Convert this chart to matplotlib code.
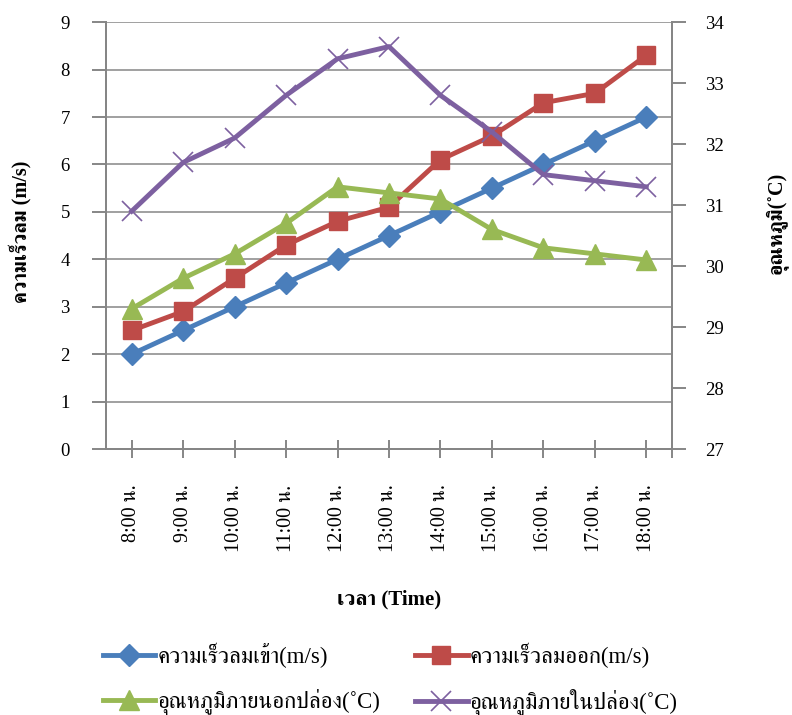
import numpy as np
import matplotlib as mpl
mpl.use('Agg')
import matplotlib.pyplot as plt

# Latin glyphs from Liberation Serif, Thai glyphs fall through to FreeSerif
plt.rcParams['font.family'] = ['Liberation Serif', 'FreeSerif', 'DejaVu Serif']

hours = ['8:00 น.', '9:00 น.', '10:00 น.', '11:00 น.', '12:00 น.', '13:00 น.',
         '14:00 น.', '15:00 น.', '16:00 น.', '17:00 น.', '18:00 น.']
wind_in = [2.0, 2.5, 3.0, 3.5, 4.0, 4.5, 5.0, 5.5, 6.0, 6.5, 7.0]
wind_out = [2.5, 2.9, 3.6, 4.3, 4.8, 5.1, 6.1, 6.6, 7.3, 7.5, 8.3]
temp_outside = [29.3, 29.8, 30.2, 30.7, 31.3, 31.2, 31.1, 30.6, 30.3, 30.2, 30.1]
temp_inside = [30.9, 31.7, 32.1, 32.8, 33.4, 33.6, 32.8, 32.2, 31.5, 31.4, 31.3]

lbl_in = 'ความเร็วลมเข้า(m/s)'
lbl_out = 'ความเร็วลมออก(m/s)'
lbl_t_out = 'อุณหภูมิภายนอกปล่อง(˚C)'
lbl_t_in = 'อุณหภูมิภายในปล่อง(˚C)'

grey = '#868686'
fs = 13.5
x = np.arange(len(hours))

fig = plt.figure(figsize=(7.92, 7.15), dpi=100)
ax = fig.add_axes([0.1338, 0.372, 0.7147, 0.597])
ax2 = ax.twinx()

l1, = ax.plot(x, wind_in, color='#4A7EBB', lw=3.5, marker='D', ms=11, label=lbl_in)
l2, = ax.plot(x, wind_out, color='#BE4B48', lw=3.5, marker='s', ms=13, label=lbl_out)
l3, = ax2.plot(x, temp_outside, color='#98B954', lw=3.5, marker='^', ms=14, label=lbl_t_out)
l4, = ax2.plot(x, temp_inside, color='#7D60A0', lw=3.5, marker='x', ms=14, mew=1.2, label=lbl_t_in)

ax.set_xlim(-0.5, len(hours) - 0.5)
ax.set_ylim(0, 9)
ax.set_yticks(range(0, 10))
ax2.set_ylim(27, 34)
ax2.set_yticks(range(27, 35))

ax.yaxis.grid(True, color=grey, lw=1.1)
ax.set_axisbelow(True)

for a in (ax, ax2):
    for side in ('left', 'right', 'bottom'):
        a.spines[side].set_color(grey)
        a.spines[side].set_linewidth(1.4)
    a.spines['top'].set_visible(False)

ax.set_xticks(x)
ax.set_xticklabels(hours, rotation=90, fontsize=14.5)
ax.set_xticks([len(hours) - 0.5], minor=True)
ax.tick_params(axis='x', which='both', direction='inout', length=13, width=1.4,
               color=grey, pad=19)
ax.tick_params(axis='y', direction='out', length=10, width=1.4, color=grey,
               labelsize=fs, pad=16)
ax2.tick_params(axis='y', direction='out', length=10, width=1.4, color=grey,
                labelsize=fs, pad=14)

ax.set_ylabel('ความเร็วลม (m/s)', fontsize=14.5, fontweight='bold')
ax.yaxis.set_label_coords(-0.131, 0.51)
ax2.set_ylabel('อุณหภูมิ(˚C)', fontsize=14.5, fontweight='bold', rotation=90)
ax2.yaxis.set_label_coords(1.164, 0.53)
ax.set_xlabel('เวลา (Time)', fontsize=15, fontweight='bold')
ax.xaxis.set_label_coords(0.5, -0.33)

# legend is filled column by column, so order the handles to read row-wise
fig.legend(handles=[l1, l3, l2, l4], loc='upper left', bbox_to_anchor=(0.118, 0.114),
           ncol=2, frameon=False, fontsize=16.5, handlelength=2.3, handletextpad=0.1,
           columnspacing=1.5, labelspacing=0.9, borderaxespad=0)

fig.savefig('out.png', dpi=100)
